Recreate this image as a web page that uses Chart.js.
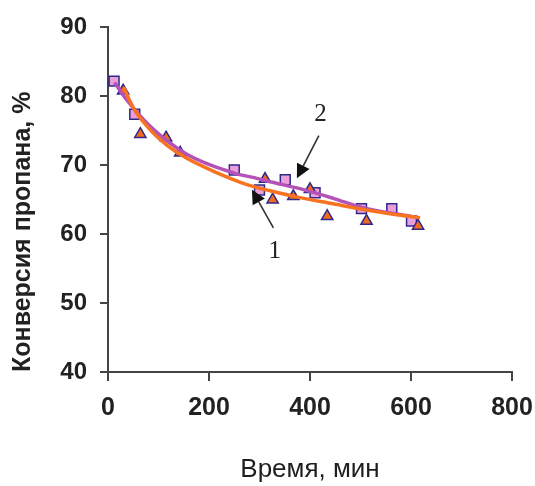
<!DOCTYPE html>
<html><head><meta charset="utf-8">
<script src="https://cdn.jsdelivr.net/npm/chart.js@4/dist/chart.umd.min.js"></script>
<style>html,body{margin:0;padding:0;background:#fff}#wrap{width:535px;height:486px;position:relative}</style>
</head><body><div id="wrap"><canvas id="c"></canvas></div>
<script>
// Series 1 (triangles) and series 2 (squares): time, min / propane conversion, %
const time1 = [30, 64, 115, 143, 311, 326, 367, 400, 434, 512, 614];
const conv1 = [80.8, 74.5, 74.0, 71.8, 68.0, 65.0, 65.5, 66.5, 62.6, 61.9, 61.2];
const time2 = [12, 53, 250, 300, 351, 410, 502, 562, 601];
const conv2 = [82.2, 77.4, 69.3, 66.4, 67.9, 66.0, 63.7, 63.7, 61.9];
// Trend curves
const fit1Time = [31, 51, 84, 117, 156, 216, 275, 321, 380, 446, 512, 565, 618];
const fit1Conv = [81.3, 78.2, 75.1, 72.9, 71.0, 68.9, 67.2, 66.3, 65.3, 64.4, 63.5, 62.9, 62.4];
const fit2Time = [13, 38, 84, 156, 248, 295, 321, 380, 446, 506, 600];
const fit2Conv = [82.0, 79.4, 75.6, 71.6, 68.9, 68.1, 67.6, 66.6, 65.2, 63.8, 62.6];
// Tick labels
const xTickValues = [0, 200, 400, 600, 800];
const yTickValues = [40, 50, 60, 70, 80, 90];
// Curve labels and pointer arrows (data units)
const curveLabels = ['1', '2'];
const labelTime = [330, 421];
const labelConv = [57.5, 77.4];
const arrowTailTime = [327.5, 417.5];
const arrowTailConv = [60.9, 74.3];
const arrowTipTime = [285, 374];
const arrowTipConv = [66.45, 68.1];

const pts = (xs, ys) => xs.map((v, i) => ({x: v, y: ys[i]}));
const SANS = '"Liberation Sans", Arial, sans-serif';

const annotations = {
  id: 'annotations',
  afterDatasetsDraw(chart) {
    const {ctx, scales: {x, y}} = chart;
    ctx.save();
    for (let i = 0; i < curveLabels.length; i++) {
      const x1 = x.getPixelForValue(arrowTailTime[i]), y1 = y.getPixelForValue(arrowTailConv[i]);
      const x2 = x.getPixelForValue(arrowTipTime[i]), y2 = y.getPixelForValue(arrowTipConv[i]);
      const a = Math.atan2(y2 - y1, x2 - x1);
      const L = 14, W = 7;
      const bx = x2 - L * Math.cos(a), by = y2 - L * Math.sin(a);
      ctx.strokeStyle = '#333';
      ctx.lineWidth = 1.6;
      ctx.beginPath(); ctx.moveTo(x1, y1); ctx.lineTo(bx, by); ctx.stroke();
      ctx.fillStyle = '#111';
      ctx.beginPath();
      ctx.moveTo(x2, y2);
      ctx.lineTo(bx - W * Math.sin(a), by + W * Math.cos(a));
      ctx.lineTo(bx + W * Math.sin(a), by - W * Math.cos(a));
      ctx.closePath(); ctx.fill();
      ctx.font = '25px "Liberation Serif", "Times New Roman", serif';
      ctx.fillStyle = '#222';
      ctx.textAlign = 'center';
      ctx.textBaseline = 'middle';
      ctx.fillText(curveLabels[i], x.getPixelForValue(labelTime[i]), y.getPixelForValue(labelConv[i]));
    }
    ctx.restore();
  }
};

new Chart(document.getElementById('c'), {
  type: 'scatter',
  data: {
    datasets: [
      {label: 'fit1', data: pts(fit1Time, fit1Conv), showLine: true, pointRadius: 0, borderColor: '#f7731f',
       borderWidth: 3.5, cubicInterpolationMode: 'monotone', order: 1},
      {label: 'fit2', data: pts(fit2Time, fit2Conv), showLine: true, pointRadius: 0, borderColor: '#b452b8',
       borderWidth: 3.5, cubicInterpolationMode: 'monotone', order: 2},
      {label: '1', data: pts(time1, conv1), pointStyle: 'triangle', pointRadius: 6.5, backgroundColor: '#f26a1c',
       borderColor: '#2e2a8c', borderWidth: 1.5, order: 3},
      {label: '2', data: pts(time2, conv2), pointStyle: 'rect', pointRadius: 7, backgroundColor: '#eb9ed8',
       borderColor: '#2e2a8c', borderWidth: 1.5, order: 4}
    ]
  },
  options: {
    responsive: true,
    maintainAspectRatio: false,
    animation: false,
    devicePixelRatio: 1,
    layout: {padding: {top: 25, right: 23, bottom: 0, left: 0}},
    plugins: {legend: {display: false}, tooltip: {enabled: false}},
    scales: {
      x: {
        type: 'linear', min: 0, max: 800,
        afterBuildTicks: s => { s.ticks = xTickValues.map(v => ({value: v})); },
        afterFit: s => { s.height = 114; },
        grid: {display: true, drawOnChartArea: false, drawTicks: true, tickLength: 9, color: '#444', lineWidth: 2},
        border: {display: true, color: '#444', width: 2},
        ticks: {font: {family: SANS, size: 25, weight: 'bold', lineHeight: 2.0}, color: '#222', padding: 2, maxRotation: 0, autoSkip: false},
        title: {display: true, text: 'Время, мин', font: {family: SANS, size: 26}, color: '#1e1e1e', padding: {top: 0, bottom: 1}}
      },
      y: {
        type: 'linear', min: 40, max: 90,
        afterBuildTicks: s => { s.ticks = yTickValues.map(v => ({value: v})); },
        afterFit: s => { s.width = 108; },
        grid: {display: true, drawOnChartArea: false, drawTicks: true, tickLength: 8, color: '#444', lineWidth: 2},
        border: {display: true, color: '#444', width: 2},
        ticks: {font: {family: SANS, size: 24, weight: 'bold'}, color: '#222', padding: 13, autoSkip: false},
        title: {display: true, text: 'Конверсия пропана, %', align: 'start', font: {family: SANS, size: 25, weight: 'bold'},
                color: '#222', padding: {top: 8, bottom: 0}}
      }
    }
  },
  plugins: [annotations]
});
</script></body></html>
